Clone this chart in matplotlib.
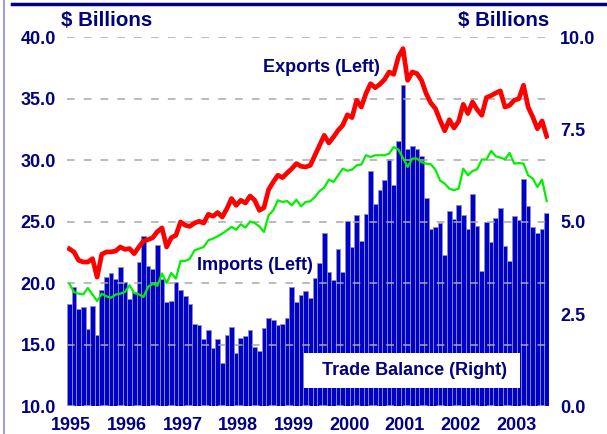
import matplotlib
matplotlib.use('Agg')
import matplotlib.pyplot as plt
from matplotlib.ticker import FormatStrFormatter
from matplotlib.patches import Rectangle
from matplotlib.lines import Line2D
import numpy as np

years = ['1995', '1996', '1997', '1998', '1999', '2000', '2001', '2002', '2003']

# Monthly trade balance ($ billions, right axis), Jan 1995 - Aug 2003
trade_balance = [
    2.76, 3.23, 2.65, 2.69, 2.10, 2.71, 1.94, 3.16, 3.50, 3.62, 3.46, 3.78,
    3.38, 2.90, 3.10, 3.91, 4.61, 3.79, 3.73, 4.38, 3.46, 2.83, 2.85, 3.37,
    3.14, 3.00, 2.76, 2.24, 2.21, 1.82, 2.08, 1.58, 1.82, 1.18, 1.92, 2.15,
    1.44, 1.85, 1.90, 2.08, 1.61, 1.50, 2.12, 2.38, 2.33, 2.20, 2.24, 2.40,
    3.22, 2.83, 3.01, 3.12, 2.94, 3.49, 3.87, 4.70, 3.63, 3.41, 4.25, 3.64,
    5.02, 4.32, 5.18, 4.48, 5.22, 6.37, 5.47, 5.85, 6.12, 6.69, 5.99, 7.19,
    8.72, 6.96, 7.05, 6.96, 6.78, 5.65, 4.81, 4.86, 4.97, 4.09, 5.29, 5.07,
    5.45, 5.19, 4.80, 5.76, 4.88, 3.67, 4.99, 4.44, 5.10, 5.37, 4.34, 3.93,
    5.15, 5.06, 6.17, 5.42, 4.86, 4.70, 4.80, 5.23,
]

# Exports ($ billions, left axis)
exports = [
    22.80, 22.55, 21.87, 21.73, 21.73, 22.00, 20.50, 22.36, 22.55, 22.55, 22.63, 22.95,
    22.76, 22.82, 22.41, 22.95, 23.44, 23.55, 23.71, 24.20, 24.50, 22.95, 23.71, 23.90,
    24.99, 24.72, 24.63, 24.90, 25.04, 24.90, 25.61, 25.45, 25.75, 25.39, 26.07, 26.89,
    26.34, 26.75, 26.53, 27.10, 26.75, 25.93, 26.15, 27.62, 28.24, 28.78, 28.59, 28.97,
    29.32, 29.73, 29.51, 29.46, 29.59, 30.41, 31.22, 32.03, 31.41, 31.89, 32.44, 32.85,
    33.70, 33.47, 34.88, 34.33, 35.42, 36.23, 35.90, 36.18, 36.56, 37.18, 36.99, 38.40,
    39.08, 36.50, 37.18, 37.05, 36.50, 35.42, 34.66, 34.20, 33.25, 32.40, 33.30, 32.63,
    33.17, 34.55, 33.80, 34.74, 34.12, 33.66, 35.10, 35.26, 35.47, 35.64, 34.33, 34.47,
    34.88, 35.01, 36.10, 34.33, 33.52, 32.57, 33.20, 31.95,
]

# Imports ($ billions, left axis)
imports = [
    19.97, 19.29, 19.16, 19.10, 19.62, 19.10, 18.56, 19.16, 18.94, 18.83, 19.08, 19.16,
    19.29, 19.84, 19.21, 19.10, 18.89, 19.70, 19.97, 19.80, 20.80, 20.03, 20.84, 20.38,
    21.81, 21.81, 22.00, 22.68, 22.82, 22.95, 23.50, 23.63, 23.82, 24.04, 24.31, 24.58,
    24.36, 24.80, 24.53, 25.03, 24.90, 24.63, 24.17, 25.53, 25.93, 26.75, 26.61, 26.69,
    26.34, 26.80, 26.26, 26.61, 26.67, 27.02, 27.50, 27.78, 28.43, 28.24, 28.78, 29.32,
    29.15, 29.24, 29.59, 29.65, 30.41, 30.27, 30.41, 30.41, 30.41, 30.54, 31.08, 30.87,
    30.19, 29.46, 30.14, 30.14, 29.86, 29.73, 29.67, 29.24, 28.35, 28.10, 27.70, 27.56,
    27.70, 29.32, 28.78, 29.13, 29.27, 30.06, 30.06, 30.76, 30.33, 30.22, 30.08, 30.60,
    29.73, 29.78, 29.73, 28.78, 28.51, 27.83, 28.43, 26.69,
]

left_ticks = [10, 15, 20, 25, 30, 35, 40]
right_ticks = [0, 2.5, 5, 7.5, 10]

plt.rcParams['font.family'] = ['Liberation Sans', 'DejaVu Sans']
NAVY = '#000080'

W, H = 607, 434
fig = plt.figure(figsize=(W / 100, H / 100), dpi=100)
fig.patch.set_facecolor('white')

L, R, T, B = 67, 549, 37.3, 406.3
ax = fig.add_axes([L / W, 1 - B / H, (R - L) / W, (B - T) / H])
ax2 = ax.twinx()
ax.set_zorder(ax2.get_zorder() + 1)
ax.patch.set_visible(False)

n = len(trade_balance)
x = np.arange(n)

ax2.bar(x, trade_balance, width=1.0, color='#0000CC', edgecolor='#9090B8', linewidth=0.6)
ax2.set_ylim(0, 10)
ax2.set_yticks(right_ticks)
ax2.yaxis.set_major_formatter(FormatStrFormatter('%.1f'))

ax.plot(x, imports, color='#00F000', lw=1.6, solid_joinstyle='round', zorder=3)
ax.plot(x, exports, color='#FF0000', lw=3.4, solid_joinstyle='round', zorder=4)
ax.set_ylim(10, 40)
ax.set_xlim(-0.5, n - 0.5)
ax.set_yticks(left_ticks)
ax.yaxis.set_major_formatter(FormatStrFormatter('%.1f'))
ax.grid(axis='y', color='#A8A8A8', lw=1.1, ls=(0, (5, 6)))
ax.grid(axis='x', visible=False)

ax.set_xticks([12 * k + 0.4 for k in range(len(years))])
ax.set_xticklabels(years)

for a in (ax, ax2):
    for s in a.spines.values():
        s.set_visible(False)
ax.tick_params(axis='both', length=0, labelsize=13, labelcolor=NAVY)
ax.tick_params(axis='y', pad=8)
ax.tick_params(axis='x', pad=7.5)
ax2.tick_params(axis='y', length=0, labelsize=13, labelcolor=NAVY, pad=8)
for lab in ax.get_xticklabels() + ax.get_yticklabels() + ax2.get_yticklabels():
    lab.set_fontweight('bold')

def fx(px):
    return px / W

def fy(py):
    return 1 - py / H

fig.text(fx(61), fy(20), '$ Billions', ha='left', va='center', fontsize=14.8,
         fontweight='bold', color=NAVY)
fig.text(fx(549), fy(20), '$ Billions', ha='right', va='center', fontsize=14.8,
         fontweight='bold', color=NAVY)

fig.text(fx(321), fy(67), 'Exports (Left)', ha='center', va='center', fontsize=13,
         fontweight='bold', color=NAVY, zorder=10)
fig.text(fx(255), fy(266), 'Imports (Left)', ha='center', va='center', fontsize=13,
         fontweight='bold', color=NAVY, zorder=10)

box = Rectangle((fx(304), fy(388)), fx(520) - fx(304), fy(353) - fy(388),
                transform=fig.transFigure, facecolor='white', edgecolor='none', zorder=10)
fig.add_artist(box)
fig.text(fx(414), fy(370.5), 'Trade Balance (Right)', ha='center', va='center', fontsize=13,
         fontweight='bold', color=NAVY, zorder=11)

# slide decorations
fig.add_artist(Line2D([fx(12), 1], [fy(3.5), fy(3.5)], transform=fig.transFigure,
                      color=NAVY, lw=2.5))
fig.add_artist(Line2D([fx(4), fx(4)], [0, 1], transform=fig.transFigure,
                      color='#A0A0E0', lw=1.5))

fig.savefig('out.png', dpi=100)
